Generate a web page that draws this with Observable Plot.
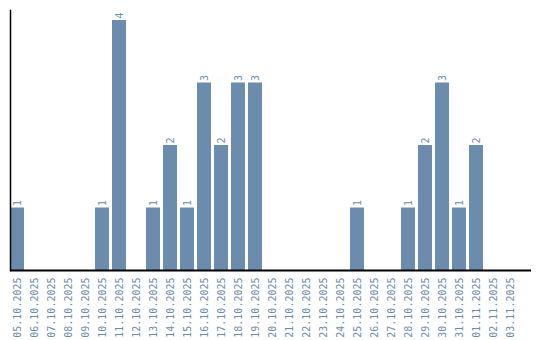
<!DOCTYPE html>
<html>
<head>
<meta charset="utf-8">
<script src="https://cdn.jsdelivr.net/npm/d3@7"></script>
<script src="https://cdn.jsdelivr.net/npm/@observablehq/plot@0.6"></script>
<style>
  html, body { margin: 0; padding: 0; background: #fff; }
</style>
</head>
<body>
<div id="chart"></div>
<script>
const dates = [
  "05.10.2025","06.10.2025","07.10.2025","08.10.2025","09.10.2025",
  "10.10.2025","11.10.2025","12.10.2025","13.10.2025","14.10.2025",
  "15.10.2025","16.10.2025","17.10.2025","18.10.2025","19.10.2025",
  "20.10.2025","21.10.2025","22.10.2025","23.10.2025","24.10.2025",
  "25.10.2025","26.10.2025","27.10.2025","28.10.2025","29.10.2025",
  "30.10.2025","31.10.2025","01.11.2025","02.11.2025","03.11.2025"
];
const counts = [
  1,0,0,0,0,
  1,4,0,1,2,
  1,3,2,3,3,
  0,0,0,0,0,
  1,0,0,1,2,
  3,1,2,0,0
];

const data = dates.map((d, i) => ({date: d, count: counts[i]}));
const nonZero = data.filter(d => d.count > 0);
const color = "#6b8cad";

const chart = Plot.plot({
  width: 540,
  height: 340,
  marginLeft: 10,
  marginRight: 9,
  marginTop: 10,
  marginBottom: 70,
  style: {fontFamily: "DejaVu Sans Mono, monospace", fontSize: "10px", background: "#fff"},
  x: {domain: dates, paddingInner: 0.176, paddingOuter: 0.41, align: 0, label: null},
  y: {domain: [0, 4.16], axis: null},
  marks: [
    Plot.barY(data, {x: "date", y: "count", fill: color}),
    Plot.text(nonZero, {x: "date", y: "count", text: d => String(d.count), rotate: -90, textAnchor: "start", lineAnchor: "middle", dy: -2, fill: color, fontSize: 10}),
    Plot.axisX({tickRotate: -90, tickSize: 0, tickPadding: 7, color: color, fontSize: 10, label: null}),
    Plot.ruleY([0], {stroke: "#000", strokeWidth: 2}),
    Plot.frame({anchor: "left", stroke: "#000", strokeWidth: 1.5})
  ]
});
document.getElementById("chart").appendChild(chart);
</script>
</body>
</html>
